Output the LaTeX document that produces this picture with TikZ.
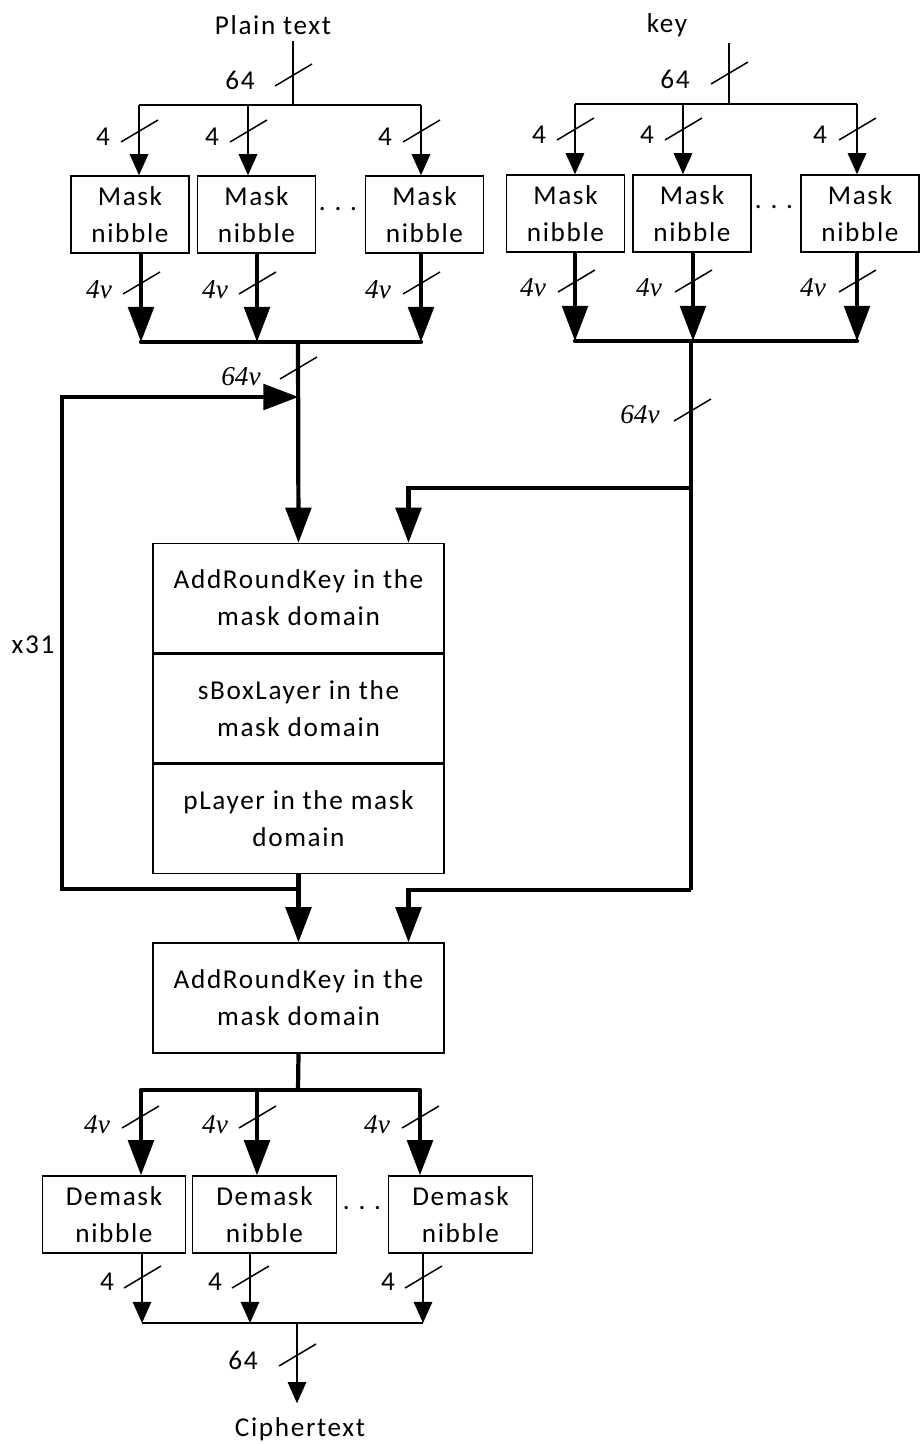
\documentclass[tikz,border=0pt]{standalone}
\usepackage{fontspec}
\setmainfont{Carlito}[LetterSpace=6]
\newfontfamily\greekfont{Liberation Serif}
\usetikzlibrary{arrows.meta,calc}

% short oblique stroke marking a bus width
\newcommand{\busslash}[2]{\draw[wire] (#1-18,#2+11) -- (#1+19,#2-11);}

\begin{document}
\begin{tikzpicture}[x=0.02cm,y=-0.02cm,
    every node/.style={font=\fontsize{15.5}{21}\selectfont},
    box/.style={draw,line width=0.8pt,align=center,inner sep=0pt},
    maskbox/.style={box,minimum width=2.36cm,minimum height=1.54cm},
    demaskbox/.style={box,minimum width=2.87cm,minimum height=1.54cm},
    stagebox/.style={box,minimum width=5.82cm,minimum height=2.18cm},
    wire/.style={line width=0.85pt},
    bus/.style={line width=2.4pt},
    wirearr/.style={wire,-{Triangle[length=12pt,width=10.5pt]}},
    busarr/.style={bus,-{Triangle[length=20pt,width=14.5pt]}},
    nu/.style={font=\fontsize{15.5}{21}\selectfont\greekfont\itshape},
  ]
    \useasboundingbox (0,0) rectangle (920,1444);
    % ---- plain text : masking ----
    \node (pt) at (273,25) {Plain text};
    \coordinate (pbc) at (293,105);
    \coordinate (pb1) at (139,105);
    \coordinate (pb2) at (248,105);
    \coordinate (pb3) at (421,105);
    \node[maskbox] (pm1) at (130,214.5) {Mask\\nibble};
    \node[maskbox] (pm2) at (256.5,214.5) {Mask\\nibble};
    \node[maskbox] (pm3) at (424.5,214.5) {Mask\\nibble};
    \node[anchor=base] (pdots) at (338,210) {.\hspace{5pt}.\hspace{5pt}.};
    \coordinate (pq1) at (141,342);
    \coordinate (pq2) at (257,342);
    \coordinate (pq3) at (421,342);
    \coordinate (pqc) at (298,342);
    \draw[wire] (pt.south -| pbc) -- (pbc);
    \draw[wire] (pb1) -- (pb3);
    \draw[wirearr] (pb1) -- (pb1 |- pm1.north);
    \draw[wirearr] (pb2) -- (pb2 |- pm2.north);
    \draw[wirearr] (pb3) -- (pb3 |- pm3.north);
    \draw[busarr] (pq1 |- pm1.south) -- (pq1);
    \draw[busarr] (pq2 |- pm2.south) -- (pq2);
    \draw[busarr] (pq3 |- pm3.south) -- (pq3);
    \draw[bus,line cap=round] (pq1) -- (pq3);
    \node (p64) at (240,80) {64};
    \busslash{293}{75}
    \node (p4a) at (103,137) {4};
    \node (p4b) at (212,137) {4};
    \node (p4c) at (385,137) {4};
    \busslash{139}{131} \busslash{248}{131} \busslash{421}{131}
    \node[nu] (pva) at (99,290) {4ν};
    \node[nu] (pvb) at (215,290) {4ν};
    \node[nu] (pvc) at (378,290) {4ν};
    \busslash{141}{283} \busslash{257}{283} \busslash{421}{283}
    \node[nu] (pv64) at (241,377) {64ν};
    \busslash{298}{368}
    % ---- key : masking ----
    \node (kt) at (667,25) {key};
    \coordinate (kbc) at (729,104);
    \coordinate (kb1) at (575,104);
    \coordinate (kb2) at (683,104);
    \coordinate (kb3) at (857,104);
    \node[maskbox] (km1) at (565.5,213.5) {Mask\\nibble};
    \node[maskbox] (km2) at (692,213.5) {Mask\\nibble};
    \node[maskbox] (km3) at (860,213.5) {Mask\\nibble};
    \node[anchor=base] (kdots) at (774,208) {.\hspace{5pt}.\hspace{5pt}.};
    \coordinate (kq1) at (575,341);
    \coordinate (kq2) at (693,341);
    \coordinate (kq3) at (857,341);
    \coordinate (kqc) at (691,341);
    \draw[wire] (kt.south -| kbc) -- (kbc);
    \draw[wire] (kb1) -- (kb3);
    \draw[wirearr] (kb1) -- (kb1 |- km1.north);
    \draw[wirearr] (kb2) -- (kb2 |- km2.north);
    \draw[wirearr] (kb3) -- (kb3 |- km3.north);
    \draw[busarr] (kq1 |- km1.south) -- (kq1);
    \draw[busarr] (kq2 |- km2.south) -- (kq2);
    \draw[busarr] (kq3 |- km3.south) -- (kq3);
    \draw[bus,line cap=round] (kq1) -- (kq3);
    \node (k64) at (675,79) {64};
    \busslash{729}{73}
    \node (k4a) at (539,135) {4};
    \node (k4b) at (647,135) {4};
    \node (k4c) at (820,135) {4};
    \busslash{575}{129} \busslash{683}{129} \busslash{857}{129}
    \node[nu] (kva) at (533,288) {4ν};
    \node[nu] (kvb) at (649,288) {4ν};
    \node[nu] (kvc) at (813,288) {4ν};
    \busslash{576}{281} \busslash{693}{281} \busslash{857}{281}
    \node[nu] (kv64) at (640,415) {64ν};
    \busslash{692}{410}
    % ---- rounds ----
    \node[stagebox] (ark1) at (298.5,598) {AddRoundKey in the\\mask domain};
    \node[stagebox,anchor=north] (sbl) at (ark1.south) {sBoxLayer in the\\mask domain};
    \node[stagebox,anchor=north] (pl) at (sbl.south) {pLayer in the mask\\domain};
    \node[stagebox,minimum height=2.2cm] (ark2) at (298.5,998) {AddRoundKey in the\\mask domain};
    \node (x31) at (33,645) {x31};
    \coordinate (lj) at (298.5,889);
    \coordinate (lc1) at (62,889);
    \coordinate (lc2) at (62,397);
    \coordinate (lin) at (298.5,397);
    \coordinate (kj1) at (691,488);
    \coordinate (kj2) at (691,890);
    \draw[busarr] (pqc) -- (ark1.north);
    \draw[busarr] (pl.south) -- (ark2.north);
    \draw[busarr] (lj) -- (lc1) -- (lc2) -- (lin);
    \draw[bus] (kqc) -- (kj2);
    \draw[busarr] (kj1) -| ($(ark1.north)+(110,0)$);
    \draw[busarr] (kj2) -| ($(ark2.north)+(110,0)$);
    % ---- demasking ----
    \coordinate (oqc) at (298,1090);
    \coordinate (oq1) at (141,1090);
    \coordinate (oq2) at (257,1090);
    \coordinate (oq3) at (420,1090);
    \node[demaskbox] (dm1) at (114,1214.5) {Demask\\nibble};
    \node[demaskbox] (dm2) at (264.5,1214.5) {Demask\\nibble};
    \node[demaskbox] (dm3) at (460.5,1214.5) {Demask\\nibble};
    \node[anchor=base] (ddots) at (362,1209) {.\hspace{5pt}.\hspace{5pt}.};
    \coordinate (cqc) at (297,1323);
    \coordinate (cq1) at (142,1323);
    \coordinate (cq2) at (250,1323);
    \coordinate (cq3) at (423,1323);
    \node (ct) at (300,1429) {Ciphertext};
    \draw[bus] (ark2.south) -- (oqc);
    \draw[bus,line cap=round] (oq1) -- (oq3);
    \draw[busarr] (oq1) -- (oq1 |- dm1.north);
    \draw[busarr] (oq2) -- (oq2 |- dm2.north);
    \draw[busarr] (oq3) -- (oq3 |- dm3.north);
    \draw[wirearr] (cq1 |- dm1.south) -- (cq1);
    \draw[wirearr] (cq2 |- dm2.south) -- (cq2);
    \draw[wirearr] (cq3 |- dm3.south) -- (cq3);
    \draw[wire] (cq1) -- (cq3);
    \draw[wirearr,shorten >=4.5pt] (cqc) -- (cqc |- ct.north);
    \node[nu] (ova) at (97,1125) {4ν};
    \node[nu] (ovb) at (215,1125) {4ν};
    \node[nu] (ovc) at (377,1125) {4ν};
    \busslash{140}{1117} \busslash{257}{1117} \busslash{420}{1117}
    \node (c4a) at (107,1282) {4};
    \node (c4b) at (215,1282) {4};
    \node (c4c) at (388,1282) {4};
    \busslash{142}{1277} \busslash{250}{1277} \busslash{423}{1277}
    \node (c64) at (243,1360) {64};
    \busslash{297}{1355}
\end{tikzpicture}
\end{document}
